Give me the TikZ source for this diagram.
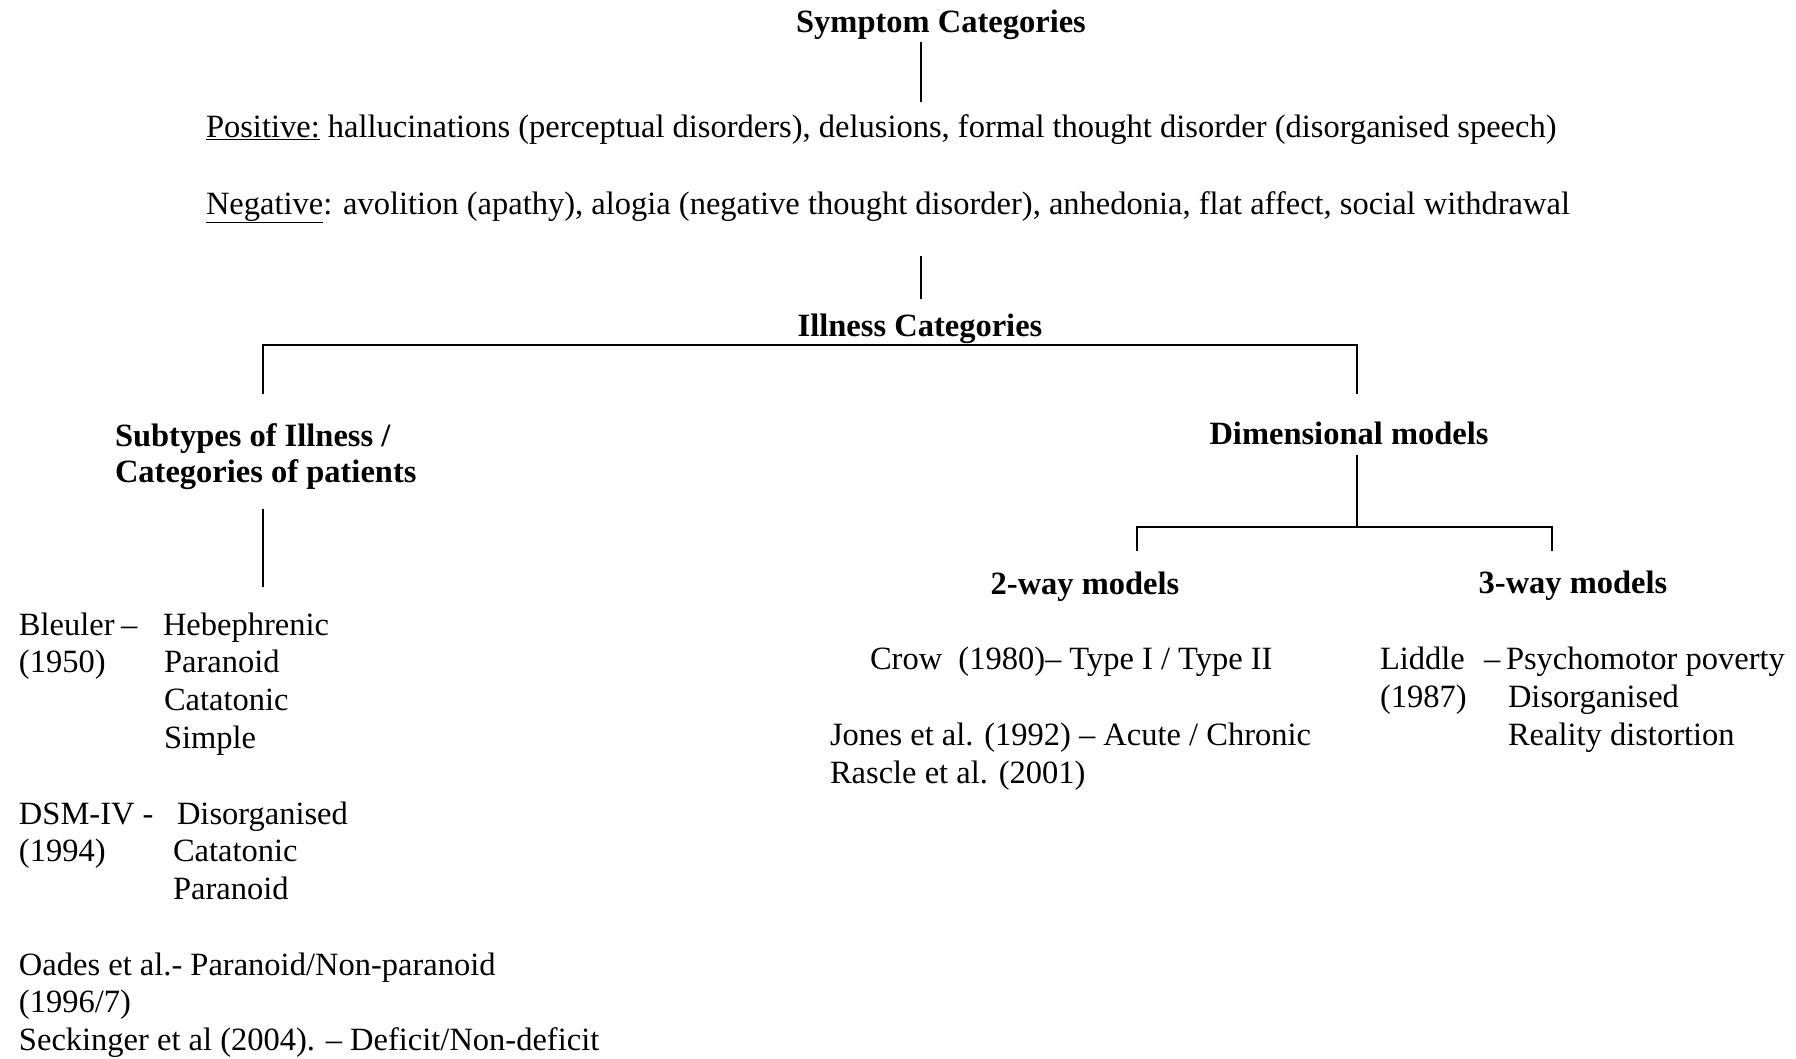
\documentclass[tikz,border=0pt]{standalone}
\usepackage{fontspec}
\setmainfont{Liberation Serif}
\begin{document}
\begin{tikzpicture}[x=1pt,y=-1pt,
  every node/.style={inner sep=0pt, outer sep=0pt, font=\fontsize{32.5}{37}\selectfont},
  lbl/.style={anchor=base west},
  hd/.style={anchor=base, font=\fontsize{32.5}{37}\selectfont\bfseries},
  hdl/.style={anchor=base west, font=\fontsize{32.5}{37}\selectfont\bfseries},
  conn/.style={line width=2pt, line cap=rect}]
\useasboundingbox (0,0) rectangle (1796,1058);
\fill[white] (0,0) rectangle (1796,1058);

% headings
\node[hd] (sym) at (941,32) {Symptom Categories};
\node[lbl] (pos) at (206,137) {\underline{Positive:} hallucinations (perceptual disorders), delusions, formal thought disorder (disorganised speech)};
\node[lbl] (neg) at (206,214) {\underline{Negative}: avolition (apathy), alogia (negative thought disorder), anhedonia, flat affect, social withdrawal};
\node[hd] (ill) at (920,336) {Illness Categories};
\node[hdl] (sub1) at (115,446) {Subtypes of Illness /};
\node[hdl] (sub2) at (115,482) {Categories of patients};
\node[hd] (dim) at (1349,444) {Dimensional models};
\node[hd] (two) at (1085,594) {2-way models};
\node[hd] (three) at (1573,593) {3-way models};

% Bleuler
\node[lbl] (bl) at (19,635) {Bleuler};
\node[lbl] (bld) at (121,635) {–};
\node[lbl] (bl1) at (163,635) {Hebephrenic};
\node[lbl] (bly) at (19,672) {(1950)};
\node[lbl] (bl2) at (164,672) {Paranoid};
\node[lbl] (bl3) at (164,710) {Catatonic};
\node[lbl] (bl4) at (164,748) {Simple};

% DSM-IV
\node[lbl] (dsm) at (19,824) {DSM-IV -};
\node[lbl] (dsm1) at (177,824) {Disorganised};
\node[lbl] (dsmy) at (19,861) {(1994)};
\node[lbl] (dsm2) at (173,861) {Catatonic};
\node[lbl] (dsm3) at (173,899) {Paranoid};

% Oades, Seckinger
\node[lbl] (oa) at (19,975) {Oades et al.- Paranoid/Non-paranoid};
\node[lbl] (oay) at (19,1012) {(1996/7)};
\node[lbl] (se) at (19,1050) {Seckinger et al (2004). – Deficit/Non-deficit};

% 2-way
\node[lbl] (crow) at (870,669) {Crow\ \ (1980)– Type I / Type II};
\node[lbl] (jon) at (830,745) {Jones et al. (1992) – Acute / Chronic};
\node[lbl] (ras) at (830,783) {Rascle et al. (2001)};

% 3-way
\node[lbl] (lid) at (1380,669) {Liddle};
\node[lbl] (lidd) at (1484,669) {–};
\node[lbl] (lid1) at (1506,669) {Psychomotor poverty};
\node[lbl] (lidy) at (1380,707) {(1987)};
\node[lbl] (lid2) at (1508,707) {Disorganised};
\node[lbl] (lid3) at (1508,745) {Reality distortion};

% connector end points
\coordinate (a1) at (921,43);
\coordinate (a2) at (921,101);
\coordinate (b1) at (921,257);
\coordinate (b2) at (921,298);
\coordinate (cL) at (263,345);
\coordinate (cR) at (1357,345);
\coordinate (cLd) at (263,393);
\coordinate (cRd) at (1357,393);
\coordinate (d1) at (263,510);
\coordinate (d2) at (263,586);
\coordinate (e1) at (1357,456);
\coordinate (e2) at (1357,527);
\coordinate (fL) at (1137,527);
\coordinate (fR) at (1552,527);
\coordinate (fLd) at (1137,550);
\coordinate (fRd) at (1552,550);

\draw[conn] (a1) -- (a2);
\draw[conn] (b1) -- (b2);
\draw[conn] (cLd) -- (cL) -- (cR) -- (cRd);
\draw[conn] (d1) -- (d2);
\draw[conn] (e1) -- (e2);
\draw[conn] (fLd) -- (fL) -- (fR) -- (fRd);
\end{tikzpicture}
\end{document}
